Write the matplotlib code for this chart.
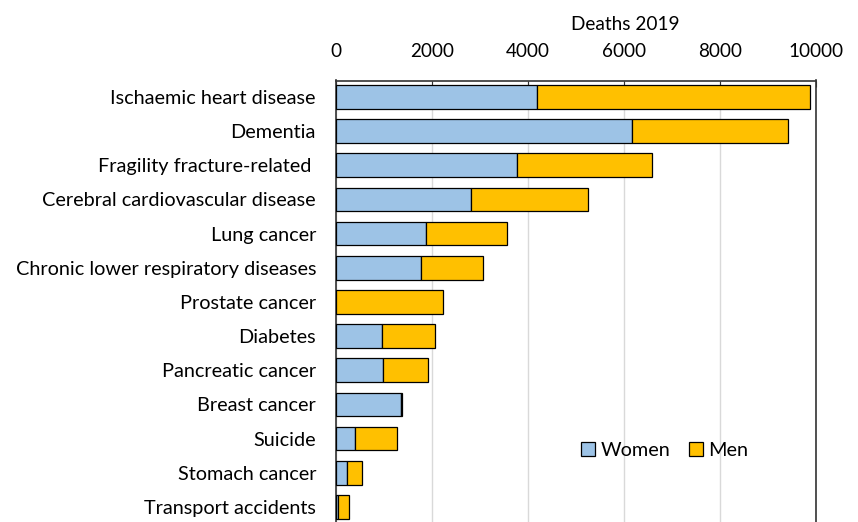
import numpy as np
import matplotlib
matplotlib.use("Agg")
import matplotlib.pyplot as plt

# Deaths 2019, values
causes = [
    "Ischaemic heart disease",
    "Dementia",
    "Fragility fracture-related ",
    "Cerebral cardiovascular disease",
    "Lung cancer",
    "Chronic lower respiratory diseases",
    "Prostate cancer",
    "Diabetes",
    "Pancreatic cancer",
    "Breast cancer",
    "Suicide",
    "Stomach cancer",
    "Transport accidents",
]
women = [4180, 6175, 3780, 2805, 1880, 1770, 0, 965, 985, 1355, 390, 235, 50]
men = [5700, 3235, 2795, 2440, 1675, 1295, 2220, 1105, 940, 15, 880, 315, 230]
xticks = [0, 2000, 4000, 6000, 8000, 10000]

plt.rcParams["font.family"] = ["Lato", "DejaVu Sans"]

fig = plt.figure(figsize=(8.58, 5.22), dpi=100)
ax = fig.add_axes([336 / 858, 0, 480 / 858, 1 - 80.5 / 522])

y = np.arange(len(causes))
ax.barh(y, women, height=0.69, color="#9DC3E6", edgecolor="black", linewidth=0.9,
        label="Women", zorder=3)
ax.barh(y, men, left=women, height=0.69, color="#FFC000", edgecolor="black",
        linewidth=0.9, label="Men", zorder=3)

ax.set_xlim(0, 10000)
ax.set_ylim(12.44, -0.48)
ax.set_yticks(y)
ax.set_yticklabels(causes, fontsize=14.3)
ax.set_xticks(xticks)
ax.xaxis.tick_top()
ax.xaxis.set_label_position("top")
ax.tick_params(axis="x", labelsize=13.6, direction="in", length=4, pad=14.5,
               colors="#333333", labelcolor="black")
ax.tick_params(axis="y", length=0, pad=14.4)
ax.set_xlabel("Deaths 2019", fontsize=13.7)
ax.xaxis.set_label_coords(0.602, 1.115)

ax.grid(axis="x", color="#d9d9d9", linewidth=1, zorder=0)
ax.spines["bottom"].set_visible(False)
for s in ["top", "left", "right"]:
    ax.spines[s].set_color("#333333")
    ax.spines[s].set_linewidth(1.2)

ax.legend(loc="center", bbox_to_anchor=(0.685, 0.163), ncol=2, frameon=False,
          fontsize=14.3, handlelength=0.7, handleheight=0.7, handletextpad=0.3,
          columnspacing=0.9)

fig.savefig("out.png", dpi=100)
